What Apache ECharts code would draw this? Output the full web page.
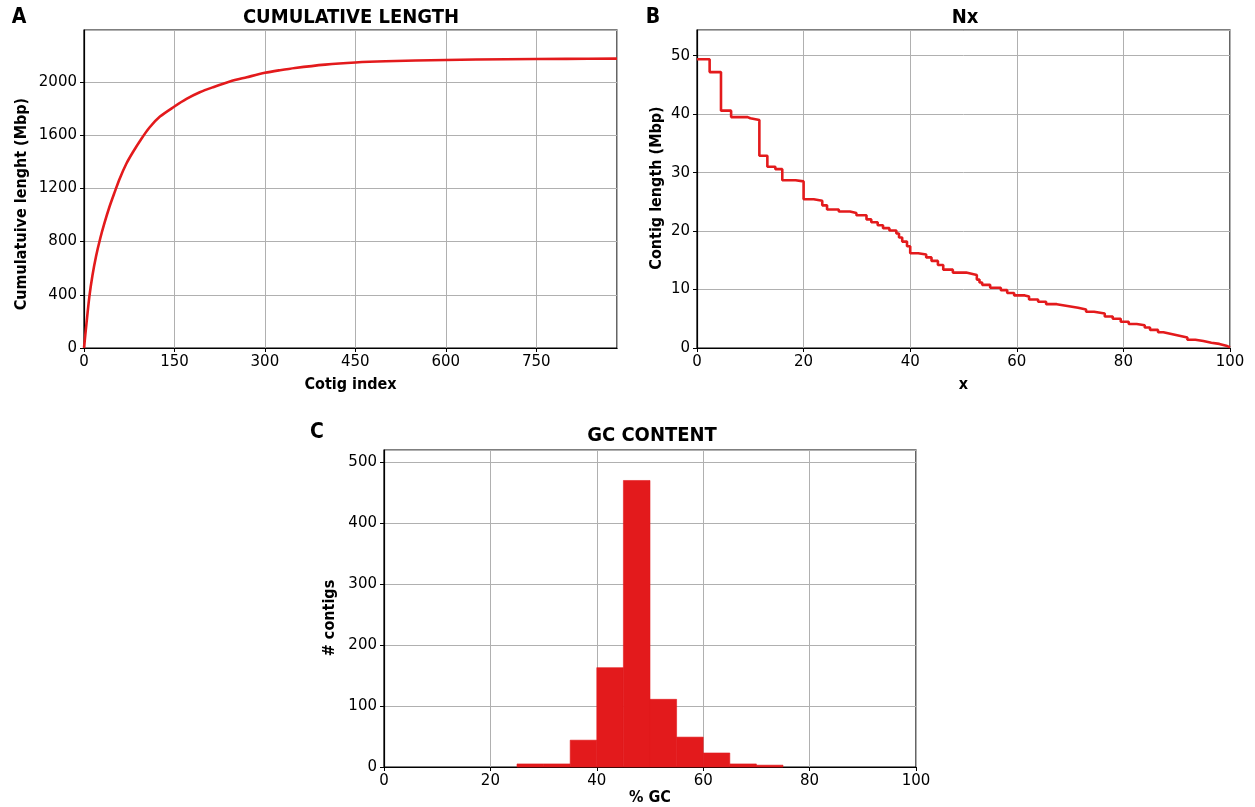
<!DOCTYPE html>
<html>
<head>
<meta charset="utf-8">
<title>Assembly stats</title>
<script src="https://cdn.jsdelivr.net/npm/echarts@6/dist/echarts.min.js"></script>
<style>
  html, body { margin: 0; padding: 0; background: #fff; }
  #chart { width: 1255px; height: 807px; }
</style>
</head>
<body>
<div id="chart"></div>
<script>
// A - cumulative length (contig index, Mbp)
var cumIndex = [0, 4, 9, 14, 20, 27, 34, 42, 51, 59, 70, 81, 95, 109, 126, 150, 170, 192, 214, 242, 270, 300, 325, 350, 400, 450, 500, 600, 700, 800, 884]
var cumLength = [0, 180, 390, 545, 690, 825, 940, 1058, 1173, 1271, 1383, 1471, 1571, 1659, 1739, 1815, 1872, 1922, 1960, 2003, 2035, 2068, 2088, 2105, 2130, 2146, 2155, 2165, 2170, 2173, 2175]

// B - Nx (x where each step starts, contig length Mbp)
var nxX = [0, 2.37, 4.5, 6.4, 9.5, 10.0, 11.7, 13.2, 14.7, 16.0, 18.5, 20.0, 21.9, 23.5, 24.4, 26.6, 28.7, 29.9, 31.8, 32.7, 33.9, 34.9, 36.1, 37.4, 37.9, 38.5, 39.4, 40.0, 41.5, 43.0, 44.0, 45.2, 46.2, 48.0, 50.5, 51.5, 52.5, 53.0, 53.5, 55.0, 57.0, 58.2, 59.5, 61.5, 62.3, 64.0, 65.5, 67.5, 69.5, 71.5, 73.0, 74.5, 76.5, 78.0, 79.5, 81.0, 82.5, 84.0, 85.0, 86.5, 87.5, 89.0, 90.5, 92.0, 93.5, 95.0, 96.5, 98.0, 99.3, 100]
var nxLen = [49.4, 47.2, 40.6, 39.5, 39.3, 39.0, 32.9, 31.0, 30.6, 28.7, 28.5, 25.45, 25.2, 24.4, 23.7, 23.35, 23.1, 22.7, 22.0, 21.5, 21.0, 20.5, 20.1, 19.6, 18.9, 18.2, 17.4, 16.2, 16.0, 15.5, 14.9, 14.2, 13.4, 12.9, 12.7, 12.5, 11.7, 11.2, 10.8, 10.3, 9.9, 9.4, 9.0, 8.8, 8.3, 7.9, 7.5, 7.2, 6.9, 6.6, 6.2, 5.9, 5.4, 5.0, 4.5, 4.1, 3.9, 3.5, 3.1, 2.7, 2.4, 2.1, 1.8, 1.4, 1.2, 0.9, 0.7, 0.4, 0.1, 0]

// C - GC content histogram (bins of 5 %)
var gcBinStart = [25, 30, 35, 40, 45, 50, 55, 60, 65, 70]
var gcCounts = [5, 5, 44, 163, 470, 111, 49, 23, 5, 3]
var gcBinWidth = 5

var RED = '#e31a1c'
var GRID = '#b0b0b0'
var TICK_FONT = 'DejaVu Sans'
var BOLD_FONT = '"Liberation Sans Narrow", "DejaVu Sans Condensed", sans-serif'

function tickLabel (extra) {
  return Object.assign({
    color: '#000',
    fontFamily: TICK_FONT,
    fontSize: 15,
    margin: 7,
    formatter: v => String(v) // no thousand separators
  }, extra || {})
}

function axisBase (opt) {
  var base = {
    type: 'value',
    axisLine: { show: true, onZero: false, lineStyle: { color: '#000', width: 1.2 } },
    axisTick: { show: true, inside: false, length: 4, lineStyle: { color: '#000', width: 1 } },
    axisLabel: tickLabel(),
    splitLine: { show: true, lineStyle: { color: GRID, width: 1 } },
    nameTextStyle: { color: '#000', fontFamily: BOLD_FONT, fontWeight: 'bold', fontSize: 16 }
  }
  return Object.assign(base, opt)
}

var cumData = cumIndex.map((x, i) => [x, cumLength[i]])
var nxData = nxX.map((x, i) => [x, nxLen[i]])
var gcData = gcBinStart.map((s, i) => [s, s + gcBinWidth, gcCounts[i]])

var myChart = echarts.init(document.getElementById('chart'))

function txt (x, y, text, size, rot) {
  return {
    type: 'text',
    x: x,
    y: y,
    rotation: rot || 0,
    style: {
      text: text,
      fill: '#000',
      font: 'bold ' + size + 'px ' + BOLD_FONT,
      align: 'center',
      verticalAlign: 'middle'
    }
  }
}

myChart.setOption({
  backgroundColor: '#fff',
  animation: false,
  grid: [
    { left: 84, top: 30, width: 533, height: 318, show: true, borderColor: '#000', borderWidth: 1.2, backgroundColor: 'transparent' },
    { left: 697, top: 30, width: 533, height: 318, show: true, borderColor: '#000', borderWidth: 1.2, backgroundColor: 'transparent' },
    { left: 384, top: 450, width: 532, height: 318, show: true, borderColor: '#000', borderWidth: 1.2, backgroundColor: 'transparent' }
  ],
  xAxis: [
    axisBase({ gridIndex: 0, min: 0, max: 884, interval: 150, name: 'Cotig index', nameLocation: 'middle', nameGap: 29, axisLabel: tickLabel({ showMaxLabel: false }) }),
    axisBase({ gridIndex: 1, min: 0, max: 100, interval: 20, name: 'x', nameLocation: 'middle', nameGap: 29 }),
    axisBase({ gridIndex: 2, min: 0, max: 100, interval: 20, name: '% GC', nameLocation: 'middle', nameGap: 23 })
  ],
  yAxis: [
    axisBase({ gridIndex: 0, min: 0, max: 2390, interval: 400, axisLabel: tickLabel({ showMaxLabel: false }) }),
    axisBase({ gridIndex: 1, min: 0, max: 54.4, interval: 10, axisLabel: tickLabel({ showMaxLabel: false }) }),
    axisBase({ gridIndex: 2, min: 0, max: 520, interval: 100, axisLabel: tickLabel({ showMaxLabel: false }) })
  ],
  series: [
    {
      type: 'line',
      xAxisIndex: 0,
      yAxisIndex: 0,
      data: cumData,
      smooth: 0.3,
      showSymbol: false,
      lineStyle: { color: RED, width: 2.6 }
    },
    {
      type: 'line',
      xAxisIndex: 1,
      yAxisIndex: 1,
      data: nxData,
      step: 'end',
      showSymbol: false,
      lineStyle: { color: RED, width: 2.6 }
    },
    {
      type: 'custom',
      xAxisIndex: 2,
      yAxisIndex: 2,
      data: gcData,
      encode: { x: [0, 1], y: 2 },
      renderItem: function (params, api) {
        var p0 = api.coord([api.value(0), api.value(2)])
        var p1 = api.coord([api.value(1), 0])
        return {
          type: 'rect',
          shape: { x: p0[0], y: p0[1], width: p1[0] - p0[0], height: p1[1] - p0[1] },
          style: { fill: RED, stroke: RED, lineWidth: 0.6 }
        }
      }
    }
  ],
  // titles, panel letters, y axis names
  graphic: [
    txt(19, 18, 'A', 21),
    txt(653, 18, 'B', 21),
    txt(317, 433, 'C', 21),
    txt(351, 18, 'CUMULATIVE LENGTH', 20),
    txt(965, 18, 'Nx', 20),
    txt(652, 436, 'GC CONTENT', 20),
    txt(22, 204, 'Cumulatuive lenght (Mbp)', 16, Math.PI / 2),
    txt(657, 188, 'Contig length (Mbp)', 16, Math.PI / 2),
    txt(330, 618, '# contigs', 16, Math.PI / 2)
  ]
})
</script>
</body>
</html>
